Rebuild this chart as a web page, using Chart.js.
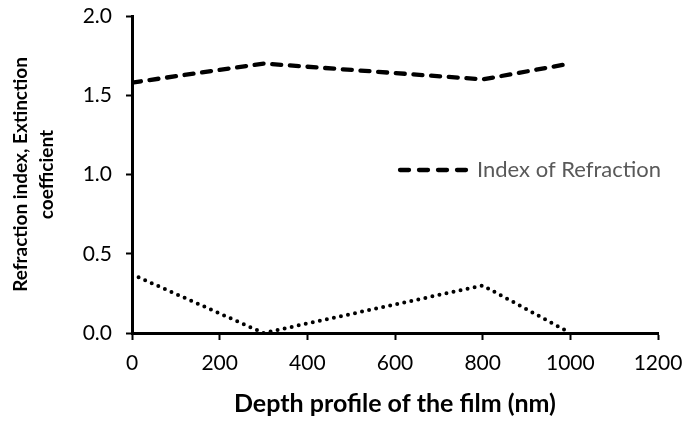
<!DOCTYPE html>
<html>
<head>
<meta charset="utf-8">
<script src="https://cdn.jsdelivr.net/npm/chart.js@4.4.1/dist/chart.umd.min.js"></script>
<style>
  html, body { margin: 0; padding: 0; background: #fff; }
  #wrap { width: 685px; height: 421px; }
</style>
</head>
<body>
<div id="wrap"><canvas id="grafico" width="685" height="421"></canvas></div>
<script>
// profundidade (nm) e valores
const profundidade = [0, 300, 800, 1000];
const indiceRefracao = [1.58, 1.70, 1.60, 1.70];
const coefExtincao = [0.37, 0.0, 0.30, 0.0];
const ticksX = [0, 200, 400, 600, 800, 1000, 1200];
const ticksY = [0.0, 0.5, 1.0, 1.5, 2.0];

const fonte = 'Lato, "Open Sans", sans-serif';

function pontos(xs, ys) {
  return xs.map((x, i) => ({ x: x, y: ys[i] }));
}

// legenda desenhada dentro da área do gráfico (só a série tracejada)
const legendaInterna = {
  id: 'legendaInterna',
  afterDatasetsDraw(chart) {
    const ctx = chart.ctx;
    const area = chart.chartArea;
    const ds = chart.data.datasets[0];
    const x0 = area.left + 266;
    const y0 = area.top + 154;
    ctx.save();
    ctx.strokeStyle = ds.borderColor;
    ctx.lineWidth = ds.borderWidth;
    ctx.lineCap = 'round';
    ctx.setLineDash([9, 10]);
    ctx.beginPath();
    ctx.moveTo(x0 + 2, y0);
    ctx.lineTo(x0 + 72, y0);
    ctx.stroke();
    ctx.setLineDash([]);
    ctx.fillStyle = '#595959';
    ctx.font = '22px ' + fonte;
    ctx.textBaseline = 'middle';
    ctx.fillText(ds.label, x0 + 79, y0);
    ctx.restore();
  }
};

const ctx = document.getElementById('grafico').getContext('2d');

new Chart(ctx, {
  type: 'line',
  data: {
    datasets: [{
      label: 'Index of Refraction',
      data: pontos(profundidade, indiceRefracao),
      borderColor: '#000',
      borderWidth: 4.3,
      borderDash: [9, 8.7],
      borderCapStyle: 'round',
      pointRadius: 0,
      tension: 0,
      fill: false
    }, {
      label: 'Extinction Coefficient',
      data: pontos(profundidade, coefExtincao),
      borderColor: '#000',
      borderWidth: 4,
      borderDash: [0, 7.2],
      borderCapStyle: 'round',
      pointRadius: 0,
      tension: 0,
      fill: false
    }]
  },
  options: {
    responsive: false,
    animation: false,
    layout: { padding: { left: 0, right: 27, top: 16, bottom: 0 } },
    plugins: {
      legend: { display: false },
      tooltip: { enabled: false }
    },
    scales: {
      x: {
        type: 'linear',
        min: 0,
        max: 1200,
        afterBuildTicks: (s) => { s.ticks = ticksX.map(v => ({ value: v })); },
        afterFit: (s) => { s.height = 88; s.paddingRight = 0; s.paddingLeft = 0; },
        border: { color: '#000', width: 3 },
        grid: { drawOnChartArea: false, drawTicks: true, tickLength: 7, tickColor: '#000', tickWidth: 2 },
        ticks: {
          color: '#000',
          padding: 11,
          font: { family: fonte, size: 21 },
          callback: (v) => String(v)
        },
        title: {
          display: true,
          text: 'Depth profile of the film (nm)',
          color: '#000',
          font: { family: fonte, size: 25, weight: 'bold' },
          padding: { top: 0, bottom: 2 }
        }
      },
      y: {
        type: 'linear',
        min: 0,
        max: 2,
        afterBuildTicks: (s) => { s.ticks = ticksY.map(v => ({ value: v })); },
        afterFit: (s) => { s.width = 132; s.paddingTop = 0; s.paddingBottom = 0; },
        border: { color: '#000', width: 3 },
        grid: { drawOnChartArea: false, drawTicks: true, tickLength: 6, tickColor: '#000', tickWidth: 2 },
        ticks: {
          color: '#000',
          padding: 14,
          font: { family: fonte, size: 21 },
          callback: (v) => Number(v).toFixed(1)
        },
        title: {
          display: true,
          text: ['Refraction index, Extinction', 'coefficient'],
          color: '#000',
          font: { family: fonte, size: 19, weight: 'bold', lineHeight: 1.35 },
          padding: { top: 8, bottom: 0 }
        }
      }
    }
  },
  plugins: [legendaInterna]
});
</script>
</body>
</html>
